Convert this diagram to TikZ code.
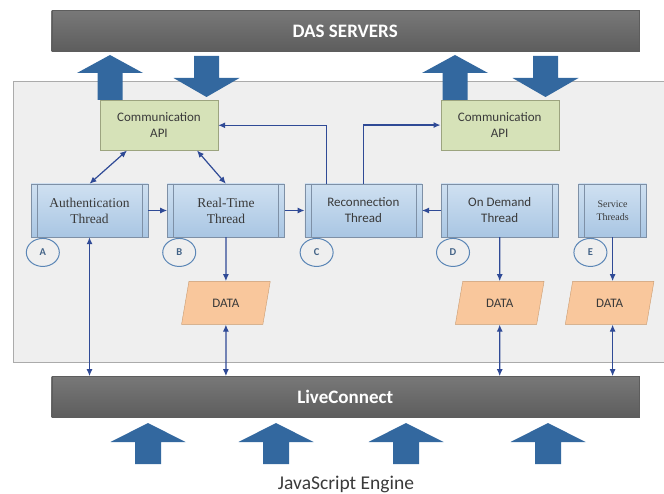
\documentclass[tikz,border=0pt]{standalone}
\usepackage{fontspec}
\setmainfont{Carlito}
\newfontfamily\thserif{Liberation Serif}
\usetikzlibrary{positioning,shapes.geometric,arrows.meta}

\definecolor{barlight}{HTML}{787878}
\definecolor{bardark}{HTML}{5D5D5D}
\definecolor{arrowblue}{HTML}{33689F}
\definecolor{linkblue}{HTML}{2F4A96}
\definecolor{panel}{HTML}{EFEFEF}
\definecolor{panelline}{HTML}{ABABAB}
\definecolor{apigreen}{HTML}{D6E2B8}
\definecolor{apiline}{HTML}{9CA47F}
\definecolor{threadtop}{HTML}{CFE0F1}
\definecolor{threadbot}{HTML}{A9C6E3}
\definecolor{threadline}{HTML}{7E90A6}
\definecolor{dataorange}{HTML}{F9C79C}
\definecolor{dataline}{HTML}{C99B70}
\definecolor{tagblue}{HTML}{5B86B6}
\definecolor{textgray}{HTML}{3A3A3A}

\tikzstyle{bar} = [rectangle, minimum width=587pt, minimum height=41pt, top color=barlight, bottom color=bardark, draw=bardark, text=white, font=\fontsize{19}{22}\selectfont\bfseries]
\tikzstyle{api} = [rectangle, minimum width=118pt, minimum height=50pt, fill=apigreen, draw=apiline, text=textgray, align=center, font=\fontsize{13}{16}\selectfont]
\tikzstyle{thread} = [rectangle, minimum width=117pt, minimum height=53pt, top color=threadtop, bottom color=threadbot, draw=threadline, text=textgray, align=center, font=\fontsize{13}{16}\selectfont,
  path picture={\draw[threadline] ([xshift=6pt]path picture bounding box.north west) -- ([xshift=6pt]path picture bounding box.south west)
    ([xshift=-6pt]path picture bounding box.north east) -- ([xshift=-6pt]path picture bounding box.south east);}]
\tikzstyle{serifthread} = [thread, font=\thserif\fontsize{13.5}{16}\selectfont]
\tikzstyle{data} = [trapezium, trapezium left angle=72, trapezium right angle=108, trapezium stretches=true, minimum width=89pt, minimum height=43pt, inner sep=0pt, fill=dataorange, draw=dataline, text=textgray, font=\fontsize{13}{16}\selectfont]
\tikzstyle{tag} = [ellipse, minimum width=33pt, minimum height=28pt, inner sep=0pt, draw=tagblue, line width=1pt, text=tagblue!75!black, font=\fontsize{10.5}{13}\selectfont\bfseries]
\tikzstyle{arrow} = [linkblue, line width=1.2pt, ->, >={Latex[length=7pt,width=6pt]}]
\tikzstyle{twoway} = [arrow, <->]
\tikzstyle{fatarrow} = [fill=arrowblue]

% block arrow: centre x, tip y, head base y, tail y, half head width, half shaft width
\newcommand{\fatarrow}[6]{%
  \fill[fatarrow] (#1-#5,#3) -- (#1,#2) -- (#1+#5,#3) -- (#1+#6,#3) -- (#1+#6,#4) -- (#1-#6,#4) -- (#1-#6,#3) -- cycle;}

\begin{document}
\begin{tikzpicture}[x=1pt, y=-1pt]
\useasboundingbox (0,0) rectangle (664,494);

% applet panel
\draw[panelline, fill=panel] (12.7,81.7) rectangle (680,361.7);

\node (das) [bar] at (345.2,31.2) {DAS SERVERS};
\node (live) [bar] at (345.2,396.9) {LiveConnect};

% threads
\node (authth) [serifthread] at (89.5,210.5) {Authentication\\Thread};
\node (rtth) [serifthread, right=19pt of authth] {Real-Time\\Thread};
\node (recth) [thread, right=20pt of rtth] {Reconnection\\Thread};
\node (demandth) [thread, right=19pt of recth] {On Demand\\Thread};
\node (servth) [thread, minimum width=68pt, right=20pt of demandth, font=\thserif\fontsize{10}{12.5}\selectfont] {Service\\Threads};

\node (taga) [tag, below right=5pt and 0pt of authth.south west] {A};
\node (tagb) [tag, below right=5pt and 0pt of rtth.south west] {B};
\node (tagc) [tag, below right=5pt and 0pt of recth.south west] {C};
\node (tagd) [tag, below right=5pt and 0pt of demandth.south west] {D};
\node (tage) [tag, below right=5pt and 0pt of servth.south west] {E};

\node (comm1) [api] at (159,125.3) {Communication\\API};
\node (comm2) [api, above=33.5pt of demandth] {Communication\\API};

\node (rtdata) [data, below=44pt of rtth] {DATA};
\node (demanddata) [data, below=44pt of demandth] {DATA};
\node (servdata) [data, below=44pt of servth, xshift=-3pt] {DATA};

\node (jsengine) [anchor=base, text=textgray, font=\fontsize{19.5}{22}\selectfont] at (346,489) {JavaScript Engine};

% server and engine traffic
\fatarrow{110}{55}{73}{100}{33}{12.5}
\fatarrow{206.5}{97}{78}{56}{33}{12.5}
\fatarrow{455}{55}{73}{100}{33}{12.5}
\fatarrow{545.5}{97}{78}{56}{33}{12.5}
\fatarrow{148}{423}{442}{464}{37.5}{13}
\fatarrow{276}{423}{442}{464}{37.5}{13}
\fatarrow{406}{423}{442}{464}{37.5}{13}
\fatarrow{548}{423}{442}{464}{37.5}{13}

\draw [twoway] ([xshift=-32pt]comm1.south) -- (authth.north);
\draw [twoway] ([xshift=38pt]comm1.south) -- (rtth.north);
\draw [arrow] ([xshift=-37pt]recth.north) |- (comm1.east);
\draw [arrow] (recth.north) |- (comm2.west);

\draw [arrow] (authth) -- (rtth);
\draw [arrow] (rtth) -- (recth);
\draw [arrow] (demandth) -- (recth);

\draw [arrow] (rtth) -- (rtdata);
\draw [arrow] (demandth) -- (demanddata);
\draw [arrow] (servth.south) -- (servth.south |- servdata.north);

\draw [twoway] (authth) -- (authth |- live.north);
\draw [twoway] (rtdata) -- (rtdata |- live.north);
\draw [twoway] (demanddata) -- (demanddata |- live.north);
\draw [twoway] (servth.south |- servdata.south) -- (servth.south |- live.north);

\end{tikzpicture}
\end{document}
